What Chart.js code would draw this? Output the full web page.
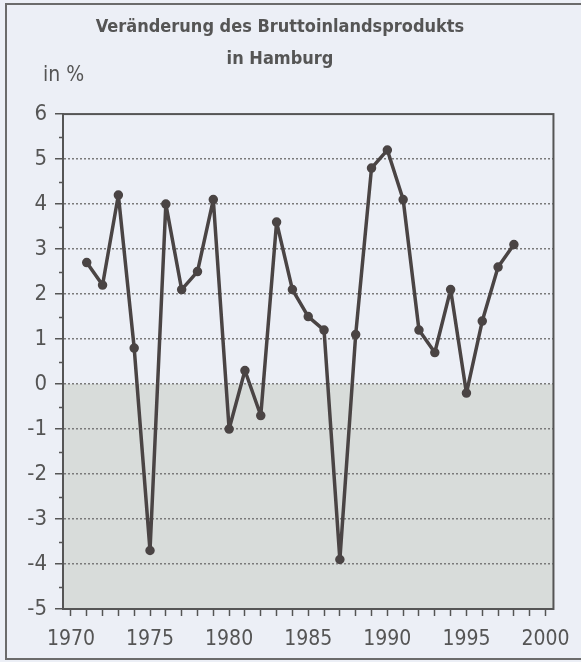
<!DOCTYPE html>
<html>
<head>
<meta charset="utf-8">
<script src="https://cdn.jsdelivr.net/npm/chart.js@4.4.1/dist/chart.umd.min.js"></script>
<style>
  html, body { margin: 0; padding: 0; background: #eceff6; }
  #wrap { position: absolute; left: 0; top: 0; width: 581px; height: 662px; }
</style>
</head>
<body>
<div id="wrap"><canvas id="bipChart" width="581" height="662"></canvas></div>
<script>
// Veränderung des BIP in Hamburg, in %
const years = [1971, 1972, 1973, 1974, 1975, 1976, 1977, 1978, 1979, 1980,
  1981, 1982, 1983, 1984, 1985, 1986, 1987, 1988, 1989, 1990,
  1991, 1992, 1993, 1994, 1995, 1996, 1997, 1998]
const changes = [2.7, 2.2, 4.2, 0.8, -3.7, 4.0, 2.1, 2.5, 4.1, -1.0,
  0.3, -0.7, 3.6, 2.1, 1.5, 1.2, -3.9, 1.1, 4.8, 5.2,
  4.1, 1.2, 0.7, 2.1, -0.2, 1.4, 2.6, 3.1]
const xTicks = [1970, 1971, 1972, 1973, 1974, 1975, 1976, 1977, 1978, 1979, 1980,
  1981, 1982, 1983, 1984, 1985, 1986, 1987, 1988, 1989, 1990,
  1991, 1992, 1993, 1994, 1995, 1996, 1997, 1998, 1999, 2000]
const yTicks = [-5, -4, -3, -2, -1, 0, 1, 2, 3, 4, 5, 6]
const yMinorTicks = [-4.5, -3.5, -2.5, -1.5, -0.5, 0.5, 1.5, 2.5, 3.5, 4.5, 5.5]

const narrow = "'Liberation Sans Narrow', 'Arial Narrow', 'DejaVu Sans Condensed', sans-serif"
const textColor = '#555555'
const lineColor = '#4a4444'

const backdrop = {
  id: 'backdrop',
  beforeDraw(chart) {
    const {ctx, chartArea} = chart
    const y = chart.scales.y
    ctx.save()
    // outer frame
    ctx.strokeStyle = '#6b6b6b'
    ctx.lineWidth = 2
    ctx.strokeRect(6, 4, 600, 655)
    // shaded area below zero
    const y0 = y.getPixelForValue(0)
    ctx.fillStyle = '#d8dcda'
    ctx.fillRect(chartArea.left, y0, chartArea.right - chartArea.left, chartArea.bottom - y0)
    ctx.restore()
  },
  beforeDatasetsDraw(chart) {
    const {ctx, chartArea} = chart
    const y = chart.scales.y
    ctx.save()
    ctx.strokeStyle = '#555555'
    ctx.lineWidth = 2
    ctx.strokeRect(chartArea.left, chartArea.top, chartArea.right - chartArea.left, chartArea.bottom - chartArea.top)
    // minor ticks on y axis
    ctx.beginPath()
    yMinorTicks.forEach(v => {
      const py = Math.round(y.getPixelForValue(v)) + 0.5
      ctx.moveTo(chartArea.left - 4, py)
      ctx.lineTo(chartArea.left, py)
    })
    ctx.lineWidth = 1.5
    ctx.stroke()
    // unit label
    ctx.fillStyle = textColor
    ctx.font = '21px ' + narrow
    ctx.textBaseline = 'alphabetic'
    ctx.fillText('in %', 43, 81)
    ctx.restore()
  }
}

const ctx = document.getElementById('bipChart').getContext('2d')
const bipChart = new Chart(ctx, {
  type: 'line',
  data: {
    datasets: [{
      data: years.map((yr, i) => ({x: yr, y: changes[i]})),
      borderColor: lineColor,
      backgroundColor: lineColor,
      borderWidth: 3.5,
      borderJoinStyle: 'round',
      pointRadius: 3,
      pointHoverRadius: 3,
      tension: 0
    }]
  },
  options: {
    responsive: false,
    animation: false,
    layout: { padding: { left: 5, right: 26, top: 11, bottom: 0 } },
    plugins: {
      legend: { display: false },
      tooltip: { enabled: false },
      title: {
        display: true,
        text: ['Veränderung des Bruttoinlandsprodukts', 'in Hamburg'],
        color: textColor,
        font: { family: narrow, size: 18, weight: 'bold', lineHeight: 1.78 },
        padding: { top: 0, bottom: 39 }
      }
    },
    scales: {
      x: {
        type: 'linear',
        min: 1969.5,
        max: 2000.5,
        afterBuildTicks: scale => { scale.ticks = xTicks.map(v => ({value: v})) },
        afterFit: scale => { scale.height = 53 },
        grid: { drawOnChartArea: false, tickLength: 7, tickColor: '#555555', tickWidth: 1.5 },
        border: { display: true, color: '#555555', width: 2 },
        ticks: {
          autoSkip: false,
          maxRotation: 0,
          padding: 11,
          color: textColor,
          font: { family: narrow, size: 21 },
          callback: v => (v % 5 === 0 ? String(v) : '')
        }
      },
      y: {
        min: -5,
        max: 6,
        afterBuildTicks: scale => { scale.ticks = yTicks.map(v => ({value: v})) },
        afterFit: scale => { scale.width = 58 },
        grid: {
          color: c => (c.tick && c.tick.value > -5 && c.tick.value < 6 ? '#7a7a7a' : 'rgba(0,0,0,0)'),
          lineWidth: 1.5,
          tickLength: 8,
          tickColor: '#555555',
          tickWidth: 1.5,
          tickBorderDash: []
        },
        border: { display: true, color: '#555555', width: 2, dash: [2, 2] },
        ticks: {
          padding: 8,
          color: textColor,
          font: { family: narrow, size: 22 },
          callback: v => String(v)
        }
      }
    }
  },
  plugins: [backdrop]
})
</script>
</body>
</html>
